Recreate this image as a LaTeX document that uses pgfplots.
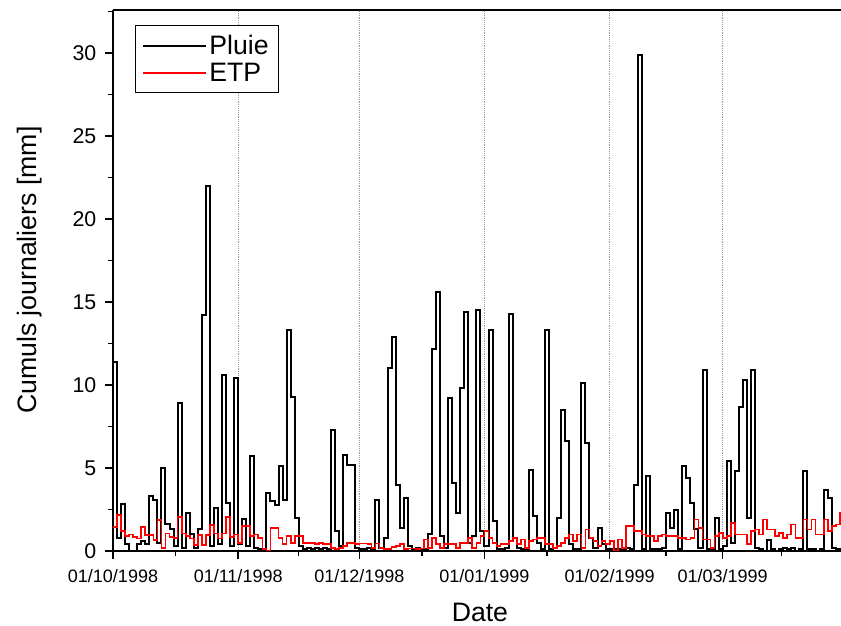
\documentclass[border=0pt]{standalone}
\usepackage{fontspec}
\setmainfont{Liberation Sans}
\usepackage{pgfplots}
\usepackage{pgfplotstable}
\pgfplotsset{compat=1.18}
\pgfplotstableread{
d P E
0 11.4 1.45
1 0.8 2.15
2 2.85 1.2
3 0.4 0.9
4 0.0 1.0
5 0.0 0.85
6 0.4 0.75
7 0.6 1.45
8 0.4 0.95
9 3.3 0.95
10 3.1 0.65
11 0.5 1.85
12 5.0 0.2
13 1.6 1.05
14 1.3 0.85
15 0.3 0.8
16 8.9 2.05
17 0.2 1.05
18 2.3 0.9
19 1.0 0.75
20 0.2 0.35
21 1.3 0.95
22 14.2 0.35
23 22.0 0.95
24 0.3 1.55
25 2.6 1.05
26 0.4 0.75
27 10.6 1.05
28 2.9 2.05
29 0.3 0.85
30 10.4 1.0
31 0.4 0.5
32 1.9 1.5
33 0.3 1.5
34 5.7 0.9
35 0.2 1.0
36 0.1 0.8
37 0.1 0.1
38 3.5 0.0
39 3.0 1.4
40 2.8 1.4
41 5.1 0.8
42 3.1 0.4
43 13.3 0.9
44 9.3 0.5
45 2.0 0.9
46 0.3 0.9
47 0.1 0.5
48 0.2 0.5
49 0.1 0.5
50 0.2 0.4
51 0.1 0.5
52 0.2 0.4
53 0.1 0.4
54 7.3 0.2
55 1.2 0.1
56 0.3 0.2
57 5.8 0.3
58 5.2 0.5
59 5.2 0.5
60 0.2 0.4
61 0.1 0.45
62 0.1 0.45
63 0.2 0.4
64 0.1 0.2
65 3.1 0.45
66 0.2 0.2
67 0.8 0.1
68 11.0 0.1
69 12.9 0.25
70 4.0 0.3
71 1.4 0.4
72 3.2 0.1
73 0.3 0.15
74 0.1 0.15
75 0.2 0.1
76 0.1 0.15
77 0.1 0.7
78 1.0 0.2
79 12.2 0.8
80 15.6 0.4
81 0.9 0.2
82 0.2 0.4
83 9.2 0.4
84 4.1 0.4
85 2.3 0.2
86 9.8 0.5
87 14.4 0.5
88 0.5 0.8
89 0.9 0.2
90 14.5 0.5
91 1.2 0.9
92 0.3 1.2
93 13.3 0.8
94 1.8 0.5
95 0.1 0.3
96 0.1 0.4
97 0.2 0.4
98 14.3 0.6
99 0.8 0.8
100 0.2 0.4
101 0.1 0.7
102 0.1 0.2
103 4.9 0.6
104 2.1 0.7
105 0.5 0.8
106 0.1 0.8
107 13.3 0.4
108 0.1 0.4
109 0.2 0.2
110 2.0 0.3
111 8.5 0.5
112 6.6 0.8
113 0.4 1.0
114 0.1 0.6
115 0.1 1.0
116 10.1 0.2
117 6.5 1.3
118 0.8 0.8
119 0.2 0.6
120 1.4 0.3
121 0.4 0.6
122 0.1 0.4
123 0.1 0.6
124 0.1 0.0
125 0.1 0.7
126 0.1 0.2
127 0.2 1.5
128 0.1 1.5
129 4.0 1.2
130 29.9 1.2
131 0.1 1.0
132 4.5 0.9
133 0.1 0.9
134 0.1 0.6
135 0.1 0.9
136 0.2 1.0
137 2.3 0.9
138 1.4 0.9
139 2.5 0.9
140 0.1 0.8
141 5.1 0.8
142 4.4 0.7
143 2.9 0.8
144 1.3 1.9
145 0.2 1.4
146 10.9 0.7
147 0.1 0.7
148 0.1 0.2
149 2.0 0.9
150 0.1 1.1
151 0.3 0.8
152 5.4 0.9
153 0.5 1.7
154 4.8 1.0
155 8.7 1.0
156 10.3 1.0
157 2.0 0.4
158 10.9 1.2
159 0.2 1.3
160 0.1 1.0
161 0.0 1.9
162 0.65 1.3
163 0.1 1.3
164 0.0 0.9
165 0.1 1.1
166 0.2 0.8
167 0.1 1.0
168 0.2 1.6
169 0.0 0.8
170 0.1 0.8
171 4.8 1.9
172 0.1 1.3
173 0.1 1.9
174 0.0 1.0
175 0.1 1.0
176 3.7 1.9
177 3.2 1.2
178 0.2 1.5
179 0.1 1.6
180 0.1 2.3
181 0.1 2.3
}\data
\begin{document}
\begin{tikzpicture}
\begin{axis}[
  name=ax,
  scale only axis,
  width=546pt, height=405.75pt,
  xmin=0, xmax=180.3, ymin=0, ymax=32.6,
  axis x line=box, axis y line=left,
  axis line style={-, line width=1.2pt},
  xtick={0,31,61,92,123,151},
  xticklabels={01/10/1998,01/11/1998,01/12/1998,01/01/1999,01/02/1999,01/03/1999},
  minor xtick={15.5,46,76.5,107.5,137,165.5},
  ytick={0,5,...,30},
  minor ytick={2.5,7.5,...,32.5},
  xtick pos=left,
  tick align=outside,
  major tick length=6pt, minor tick length=3.5pt,
  every tick/.style={black, line width=1.1pt},
  xmajorgrids,
  major grid style={densely dotted, gray!80, line width=0.5pt},
  /pgf/number format/assume math mode=true,
  yticklabel style={font=\fontsize{16pt}{16pt}\selectfont, xshift=-3pt},
  xticklabel style={font=\fontsize{13.5pt}{14pt}\selectfont, yshift=-4pt},
  xlabel={Date}, ylabel={Cumuls journaliers [mm]},
  xlabel style={at={(axis description cs:0.504,-0.113)}, anchor=center, font=\fontsize{20pt}{20pt}\selectfont},
  ylabel style={at={(axis description cs:-0.114,0.519)}, anchor=center, font=\fontsize{20pt}{20pt}\selectfont},
  legend style={at={(axis description cs:0.0302,0.972)}, anchor=north west, draw=black, line width=0.6pt,
    font=\fontsize{20pt}{21pt}\selectfont, inner xsep=5pt, inner ysep=5pt, row sep=1pt, cells={anchor=west}},
  legend image code/.code={\draw[#1, line width=1.5pt] (0pt,0pt) -- (45pt,0pt); \path (0pt,0pt) -- (47pt,0pt);},
]
\addplot[const plot, black, line width=1.5pt] table[x=d, y=P] {\data};
\addlegendentry{Pluie}
\addplot[const plot, red, line width=1.3pt] table[x=d, y=E] {\data};
\addlegendentry{ETP}
\end{axis}
\pgfresetboundingbox
\path ([shift={(-84.75pt,-56.25pt)}]ax.south west) rectangle ([shift={(0pt,7.5pt)}]ax.north east);
\end{tikzpicture}
\end{document}
